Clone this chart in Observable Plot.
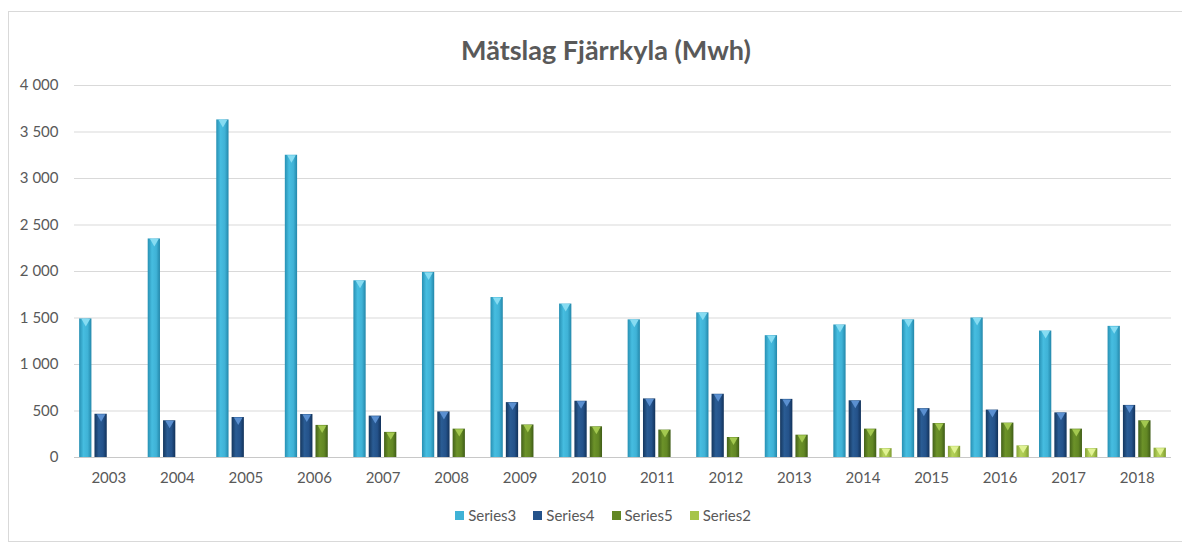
<!DOCTYPE html>
<html>
<head>
<meta charset="utf-8">
<script src="https://cdn.jsdelivr.net/npm/d3@7"></script>
<script src="https://cdn.jsdelivr.net/npm/@observablehq/plot@0.6"></script>
<style>
  html, body { margin: 0; padding: 0; background: #fff; }
  body { width: 1182px; height: 543px; position: relative; overflow: hidden; font-family: Lato, "Open Sans", sans-serif; }
  #frame { position: absolute; left: 8px; top: 11px; width: 1190px; height: 531px; border: 1px solid #d9d9d9; box-sizing: border-box; }
  #title { position: absolute; left: 0; top: 34px; width: 1212px; text-align: center; font-size: 27px; font-weight: bold; color: #595959; line-height: 32px; }
  #grid, #chart { position: absolute; left: 0; top: 70px; }
  #legend { position: absolute; left: 0; top: 505px; width: 1182px; display: flex; justify-content: center; gap: 17px; font-size: 15px; color: #595959; line-height: 20px; padding-left: 24px; box-sizing: border-box; }
  .item { display: flex; align-items: center; gap: 4px; }
  .sw { width: 9px; height: 9px; display: inline-block; }
</style>
</head>
<body>
<svg width="0" height="0" style="position:absolute">
  <defs>
    <linearGradient id="g3" x1="0" x2="1" y1="0" y2="0">
      <stop offset="0%" stop-color="#2790b3"/>
      <stop offset="35%" stop-color="#46bde0"/>
      <stop offset="70%" stop-color="#3fb2d6"/>
      <stop offset="100%" stop-color="#2387aa"/>
    </linearGradient>
    <linearGradient id="g4" x1="0" x2="1" y1="0" y2="0">
      <stop offset="0%" stop-color="#15375e"/>
      <stop offset="35%" stop-color="#2a5c94"/>
      <stop offset="70%" stop-color="#24528a"/>
      <stop offset="100%" stop-color="#12325a"/>
    </linearGradient>
    <linearGradient id="g5" x1="0" x2="1" y1="0" y2="0">
      <stop offset="0%" stop-color="#44621a"/>
      <stop offset="35%" stop-color="#6c9229"/>
      <stop offset="70%" stop-color="#628724"/>
      <stop offset="100%" stop-color="#3f5c17"/>
    </linearGradient>
    <linearGradient id="g2" x1="0" x2="1" y1="0" y2="0">
      <stop offset="0%" stop-color="#86a437"/>
      <stop offset="35%" stop-color="#b5d25a"/>
      <stop offset="70%" stop-color="#a6c44b"/>
      <stop offset="100%" stop-color="#7f9c32"/>
    </linearGradient>
  </defs>
</svg>
<div id="frame"></div>
<div id="title">Mätslag Fjärrkyla (Mwh)</div>
<div id="grid"></div>
<div id="chart"></div>
<div id="legend"></div>
<script>
const years = ["2003","2004","2005","2006","2007","2008","2009","2010","2011","2012","2013","2014","2015","2016","2017","2018"];
const seriesNames = ["Series3","Series4","Series5","Series2"];
const series3 = [1490, 2350, 3630, 3250, 1900, 1990, 1720, 1650, 1480, 1555, 1310, 1425, 1480, 1500, 1360, 1410];
const series4 = [465, 395, 430, 462, 445, 490, 590, 605, 630, 680, 625, 610, 525, 510, 480, 560];
const series5 = [0, 0, 0, 345, 270, 305, 350, 330, 295, 215, 240, 305, 365, 370, 305, 395];
const series2 = [0, 0, 0, 0, 0, 0, 0, 0, 0, 0, 0, 95, 120, 125, 95, 100];
const yTicks = [0, 500, 1000, 1500, 2000, 2500, 3000, 3500, 4000];
const fills = ["url(#g3)", "url(#g4)", "url(#g5)", "url(#g2)"];
const capColors = ["#86dcf2", "#5a8fd0", "#a3c84f", "#e0f293"];
const swatchColors = ["#3fb2d6", "#24528a", "#628724", "#a6c44b"];

const valuesBySeries = {Series3: series3, Series4: series4, Series5: series5, Series2: series2};
const data = [];
years.forEach((yr, i) => {
  seriesNames.forEach(s => {
    const v = valuesBySeries[s][i];
    if (v > 0) data.push({year: yr, series: s, value: v});
  });
});

const fmt = d => d3.format(",")(d).replace(/,/g, " ");
const W = 1182, H = 420, MT = 15, MB = 33, ML = 74, MR = 11;
const font = {fontFamily: "Lato, 'Open Sans', sans-serif", fontSize: "15px", color: "#595959", background: "transparent"};

// Background: y axis, gridlines and baseline across the full plot area
const grid = Plot.plot({
  width: W, height: H, marginTop: MT, marginBottom: MB, marginLeft: ML, marginRight: MR,
  style: font,
  x: {axis: null, domain: [0, 1]},
  y: {domain: [0, 4000], ticks: yTicks, tickFormat: fmt, label: null, tickSize: 0, tickPadding: 16},
  marks: [
    Plot.ruleY(yTicks.filter(d => d > 0), {stroke: "#d9d9d9", strokeWidth: 1, strokeOpacity: 1}),
    Plot.ruleY([0], {stroke: "#c8c8c8", strokeWidth: 1.2, strokeOpacity: 1})
  ]
});
document.getElementById("grid").appendChild(grid);

// Foreground: clustered bars faceted by year
const capScale = d3.scaleOrdinal(seriesNames, capColors);
const chart = Plot.plot({
  width: W, height: H, marginTop: MT, marginBottom: MB, marginLeft: ML, marginRight: MR,
  style: font,
  fx: {domain: years, paddingInner: 0.15, paddingOuter: 0.075, round: false, label: null, axis: "bottom", tickSize: 0, tickPadding: 15},
  x: {domain: seriesNames, paddingInner: 0.2, paddingOuter: 0, axis: null, round: false},
  y: {domain: [0, 4000], axis: null},
  color: {domain: seriesNames, range: fills},
  marks: [
    Plot.barY(data, {fx: "year", x: "series", y: "value", fill: "series"}),
    Plot.dot(data, {fx: "year", x: "series", y: "value", symbol: "triangle", rotate: 180, r: 3.2, dy: 2.5,
      fill: d => capScale(d.series), stroke: "none"})
  ]
});
document.getElementById("chart").appendChild(chart);

// Legend
const legend = document.getElementById("legend");
seriesNames.forEach((s, i) => {
  const item = document.createElement("span");
  item.className = "item";
  const sw = document.createElement("span");
  sw.className = "sw";
  sw.style.backgroundColor = swatchColors[i];
  const t = document.createElement("span");
  t.textContent = s;
  item.appendChild(sw);
  item.appendChild(t);
  legend.appendChild(item);
});
</script>
</body>
</html>
